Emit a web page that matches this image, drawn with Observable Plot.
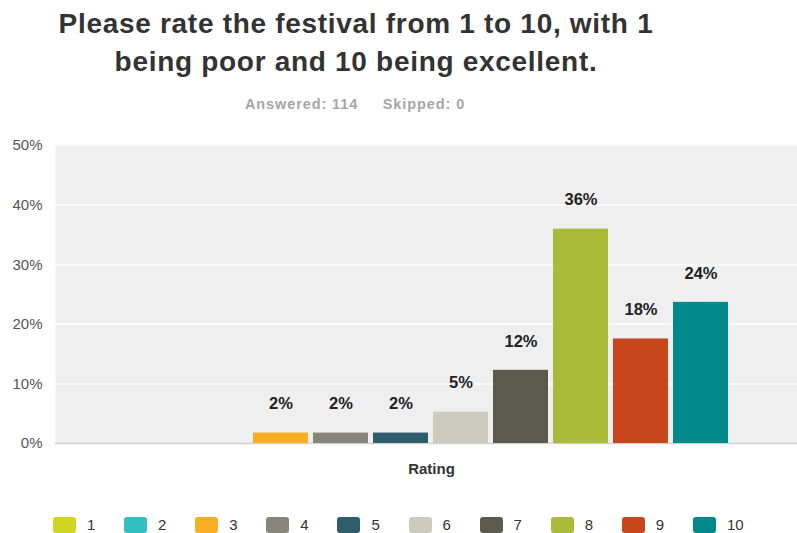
<!DOCTYPE html>
<html>
<head>
<meta charset="utf-8">
<script src="https://cdn.jsdelivr.net/npm/d3@7"></script>
<script src="https://cdn.jsdelivr.net/npm/@observablehq/plot@0.6"></script>
<style>
  html, body { margin: 0; padding: 0; background: #fff; width: 797px; height: 533px; overflow: hidden; font-family: "Liberation Sans", Arial, sans-serif; }
  #title { position: absolute; left: 0; top: 5px; width: 712px; text-align: center; font-weight: bold; font-size: 28px; letter-spacing: 0.7px; line-height: 38px; color: #333; }
  #sub { position: absolute; left: 0; top: 96px; width: 710px; line-height: 17px; text-align: center; font-weight: bold; font-size: 14.5px; letter-spacing: 0.9px; color: #a6a6a6; white-space: pre; }
  #chart { position: absolute; left: 0; top: 125px; }
  #legend { position: absolute; left: 0; top: 516px; width: 797px; height: 20px; }
  .item { position: absolute; top: 0; height: 18px; font-size: 15px; color: #333; }
  .sw { position: absolute; left: 0; top: 1px; width: 23px; height: 16px; border-radius: 3px; }
  .lb { position: absolute; left: 34px; top: 1px; line-height: 16px; }
</style>
</head>
<body>
<div id="title">Please rate the festival from 1 to 10, with 1<br>being poor and 10 being excellent.</div>
<div id="sub">Answered: 114     Skipped: 0</div>
<div id="chart"></div>
<div id="legend"></div>
<script>
const ratings = ["1", "2", "3", "4", "5", "6", "7", "8", "9", "10"];
const percents = [0, 0, 1.75, 1.75, 1.75, 5.26, 12.28, 35.96, 17.54, 23.68];
const colors = ["#d0d524", "#31bfc1", "#f7ae22", "#86877a", "#2e5e6b", "#cdcbbd", "#5c5a4c", "#a9bb38", "#c7461c", "#00898a"];
const yTicks = [0, 10, 20, 30, 40, 50];
const axisTitle = "Rating";

const data = ratings.map((r, i) => ({rating: r, value: percents[i]}));

const chart = Plot.plot({
  width: 797,
  height: 363,
  marginLeft: 55,
  marginRight: 0,
  marginTop: 20,
  marginBottom: 45,
  style: {fontFamily: "'Liberation Sans', Arial, sans-serif", fontSize: "13px", background: "transparent"},
  x: {type: "band", domain: ratings, range: [128, 733], padding: 0.0833, axis: null},
  y: {domain: [0, 50], ticks: yTicks, axis: null},
  color: {domain: ratings, range: colors},
  marks: [
    Plot.frame({fill: "#efefef", stroke: null}),
    Plot.gridY([10, 20, 30, 40], {stroke: "#ffffff", strokeOpacity: 1, strokeWidth: 1.5}),
    Plot.ruleX([0], {frameAnchor: "left", stroke: "#d6d6d6", strokeWidth: 2}),
    Plot.ruleY([0], {stroke: "#d2d2d2", strokeWidth: 1.5}),
    Plot.barY(data, {x: "rating", y: "value", fill: "rating"}),
    Plot.text(data.filter(d => d.value > 0), {x: "rating", y: "value", text: d => Math.round(d.value) + "%", dy: -29, fontWeight: "bold", fontSize: 16.5, fill: "#222"}),
    Plot.axisY({ticks: yTicks, tickFormat: d => d + "%", tickSize: 0, tickPadding: 13, fill: "#555", fontSize: 15, label: null}),
    Plot.text([axisTitle], {frameAnchor: "bottom", dx: 5, dy: 30, fontWeight: "bold", fontSize: 15, fill: "#333"})
  ]
});
document.getElementById("chart").appendChild(chart);

const legend = document.getElementById("legend");
ratings.forEach((r, i) => {
  const item = document.createElement("div");
  item.className = "item";
  item.style.left = (53 + i * 71.1) + "px";
  const sw = document.createElement("div");
  sw.className = "sw";
  sw.style.background = colors[i];
  const lb = document.createElement("div");
  lb.className = "lb";
  lb.textContent = r;
  item.appendChild(sw);
  item.appendChild(lb);
  legend.appendChild(item);
});
</script>
</body>
</html>
